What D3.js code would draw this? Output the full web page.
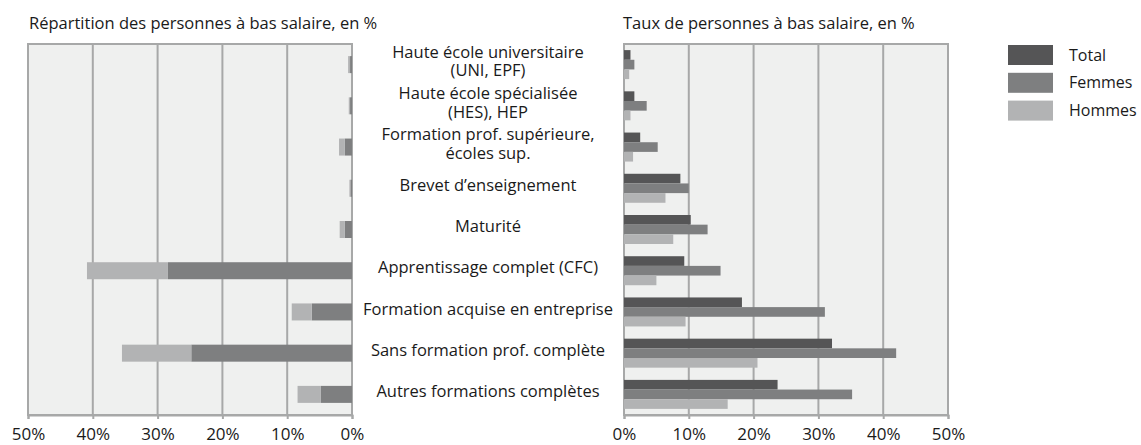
<html>
<script src='https://d3js.org/d3.v7.min.js'></script>
<style>
    body { margin: 0; background: #fff; }
    text { font-family: 'Open Sans', sans-serif; fill: #1a1a1a; }
</style>

<body>
    <div id="chart"></div>
    <script>
        // categories (labels split over lines where the chart wraps them)
        var categories = [
            "Haute école universitaire|(UNI, EPF)",
            "Haute école spécialisée|(HES), HEP",
            "Formation prof. supérieure,|écoles sup.",
            "Brevet d’enseignement",
            "Maturité",
            "Apprentissage complet (CFC)",
            "Formation acquise en entreprise",
            "Sans formation prof. complète",
            "Autres formations complètes"
        ];
        // left panel: share of low-wage persons, stacked (femmes then hommes)
        var shareFemmes = [0.3, 0.3, 1.1, 0.25, 1.1, 28.4, 6.2, 24.8, 4.8];
        var shareHommes = [0.3, 0.2, 0.9, 0.15, 0.8, 12.5, 3.1, 10.7, 3.6];
        // right panel: rate of low-wage persons
        var rateTotal = [1.0, 1.6, 2.5, 8.7, 10.3, 9.3, 18.2, 32.1, 23.7];
        var rateFemmes = [1.6, 3.5, 5.2, 10.0, 12.9, 14.9, 31.0, 42.0, 35.2];
        var rateHommes = [0.8, 1.0, 1.4, 6.4, 7.6, 5.0, 9.5, 20.6, 16.0];
        var series = ["Total", "Femmes", "Hommes"];
        var ticks = [0, 10, 20, 30, 40, 50];

        var colors = { "Total": "#555556", "Femmes": "#7e7f80", "Hommes": "#b2b3b4" };
        const width = 1141, height = 445;
        const plotTop = 44, plotBottom = 415;
        const gridColor = "#a7a8a8";

        const svg = d3.select("#chart").append("svg")
            .attr("width", width)
            .attr("height", height);

        const y = d3.scaleBand().domain(categories).range([plotTop, plotBottom]);
        const xL = d3.scaleLinear().domain([50, 0]).range([28, 352]);
        const xR = d3.scaleLinear().domain([0, 50]).range([624, 948]);

        // panel backgrounds + grid
        function panel(x) {
            const r = x.range();
            const x0 = Math.min(r[0], r[1]), x1 = Math.max(r[0], r[1]);
            svg.append("rect")
                .attr("x", x0).attr("y", plotTop)
                .attr("width", x1 - x0).attr("height", plotBottom - plotTop)
                .attr("fill", "#eff0ef")
                .attr("stroke", gridColor)
                .attr("stroke-width", 2);
            svg.append("g").selectAll("line")
                .data(ticks)
                .enter().append("line")
                .attr("x1", d => x(d)).attr("x2", d => x(d))
                .attr("y1", plotTop).attr("y2", plotBottom)
                .attr("stroke", gridColor)
                .attr("stroke-width", 2);
            const ax = svg.append("g")
                .attr("transform", `translate(0,${plotBottom})`)
                .call(d3.axisBottom(x).tickValues(ticks).tickSize(4).tickPadding(9).tickFormat(d => d + "%"));
            ax.select(".domain").attr("stroke", gridColor).attr("stroke-width", 2);
            ax.selectAll(".tick line").attr("stroke", gridColor).attr("stroke-width", 2);
            ax.selectAll("text").style("font-family", "'Open Sans', sans-serif").style("font-size", "17px").attr("fill", "#1a1a1a");
        }
        panel(xL);
        panel(xR);

        // left stacked bars
        const barH = 17;
        svg.append("g").selectAll("rect")
            .data(categories)
            .enter().append("rect")
            .attr("x", (d, i) => xL(shareFemmes[i]))
            .attr("y", d => y(d) + y.bandwidth() / 2 - barH / 2)
            .attr("width", (d, i) => xL(0) - xL(shareFemmes[i]))
            .attr("height", barH)
            .attr("fill", colors["Femmes"]);
        svg.append("g").selectAll("rect")
            .data(categories)
            .enter().append("rect")
            .attr("x", (d, i) => xL(shareFemmes[i] + shareHommes[i]))
            .attr("y", d => y(d) + y.bandwidth() / 2 - barH / 2)
            .attr("width", (d, i) => xL(shareFemmes[i]) - xL(shareFemmes[i] + shareHommes[i]))
            .attr("height", barH)
            .attr("fill", colors["Hommes"]);

        // right grouped bars
        const rates = { "Total": rateTotal, "Femmes": rateFemmes, "Hommes": rateHommes };
        const ys = d3.scaleBand().domain(series).range([-14.5, 14.5]);
        series.forEach(s => {
            svg.append("g").selectAll("rect")
                .data(categories)
                .enter().append("rect")
                .attr("x", xR(0))
                .attr("y", d => y(d) + y.bandwidth() / 2 + ys(s))
                .attr("width", (d, i) => xR(rates[s][i]) - xR(0))
                .attr("height", ys.bandwidth())
                .attr("fill", colors[s]);
        });

        // category labels between panels
        const labels = svg.append("g");
        categories.forEach(c => {
            const lines = c.split("|");
            const cy = y(c) + y.bandwidth() / 2;
            const t = labels.append("text")
                .attr("x", 488)
                .attr("text-anchor", "middle")
                .style("font-size", "16.5px");
            lines.forEach((l, j) => {
                const off = lines.length == 1 ? -3 : (j == 0 ? -12.5 : 6);
                t.append("tspan")
                    .attr("x", 488)
                    .attr("y", cy + off)
                    .attr("dy", "0.35em")
                    .text(l);
            });
        });

        // titles
        svg.append("text").attr("x", 29).attr("y", 29)
            .style("font-size", "16.5px")
            .text("Répartition des personnes à bas salaire, en %");
        svg.append("text").attr("x", 623).attr("y", 29)
            .style("font-size", "16.5px")
            .text("Taux de personnes à bas salaire, en %");

        // legend
        const legend = svg.append("g").attr("transform", "translate(1008,45)");
        series.forEach((s, i) => {
            legend.append("rect")
                .attr("x", 0).attr("y", i * 27.8)
                .attr("width", 45).attr("height", 20)
                .attr("fill", colors[s]);
            legend.append("text")
                .attr("x", 61).attr("y", i * 27.8 + 10)
                .attr("dy", "0.35em")
                .style("font-size", "16px")
                .text(s);
        });
    </script>
</body>

</html>
